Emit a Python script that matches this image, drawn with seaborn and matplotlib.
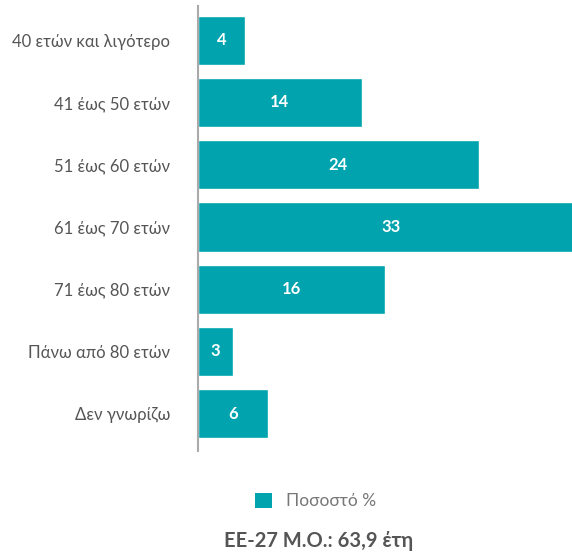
import matplotlib
matplotlib.use("Agg")
import matplotlib.pyplot as plt
import seaborn as sns
import pandas as pd
from matplotlib.patches import Patch

categories = ["40 ετών και λιγότερο", "41 έως 50 ετών", "51 έως 60 ετών",
              "61 έως 70 ετών", "71 έως 80 ετών", "Πάνω από 80 ετών", "Δεν γνωρίζω"]
values = [4, 14, 24, 33, 16, 3, 6]
legend_label = "Ποσοστό %"
footer = "ΕΕ-27 Μ.Ο.: 63,9 έτη"

color = "#00A3AE"
sns.set_style("white")
plt.rcParams['font.family'] = ['Lato', 'DejaVu Sans']

df = pd.DataFrame({"cat": categories, "val": values})

fig = plt.figure(figsize=(5.72, 5.53), dpi=100)
ax = fig.add_axes([198/572, 1 - 451/553, 1 - 198/572, (451 - 6)/553])
sns.barplot(data=df, y="cat", x="val", color=color, saturation=1, width=0.79, ax=ax, orient="h")
ax.set_xlim(0, 32.0)
ax.set_ylim(6.6, -0.55)
ax.set_xlabel("")
ax.set_ylabel("")
ax.set_xticks([])
for s in ["top", "right", "bottom"]:
    ax.spines[s].set_visible(False)
ax.spines["left"].set_color("#AAAAAA")
ax.spines["left"].set_linewidth(1.5)
ax.tick_params(axis="y", length=0, pad=20, labelsize=12, labelcolor="#555555")

for i, v in enumerate(values):
    ax.text(v / 2, i, str(v), ha="center", va="center", color="white",
            fontsize=12, fontweight="bold")

handles = [Patch(facecolor=color, edgecolor="none", label=legend_label)]
fig.legend(handles=handles, loc="center", bbox_to_anchor=(0.552, 1 - 501/553),
           frameon=False, fontsize=12.5, labelcolor="#777777",
           handlelength=1.0, handleheight=1.0, handletextpad=0.8)

fig.text(0.557, 1 - 541/553, footer, ha="center", va="center", fontsize=14.5,
         fontweight="bold", color="#555555")

fig.savefig("out.png", dpi=100)
